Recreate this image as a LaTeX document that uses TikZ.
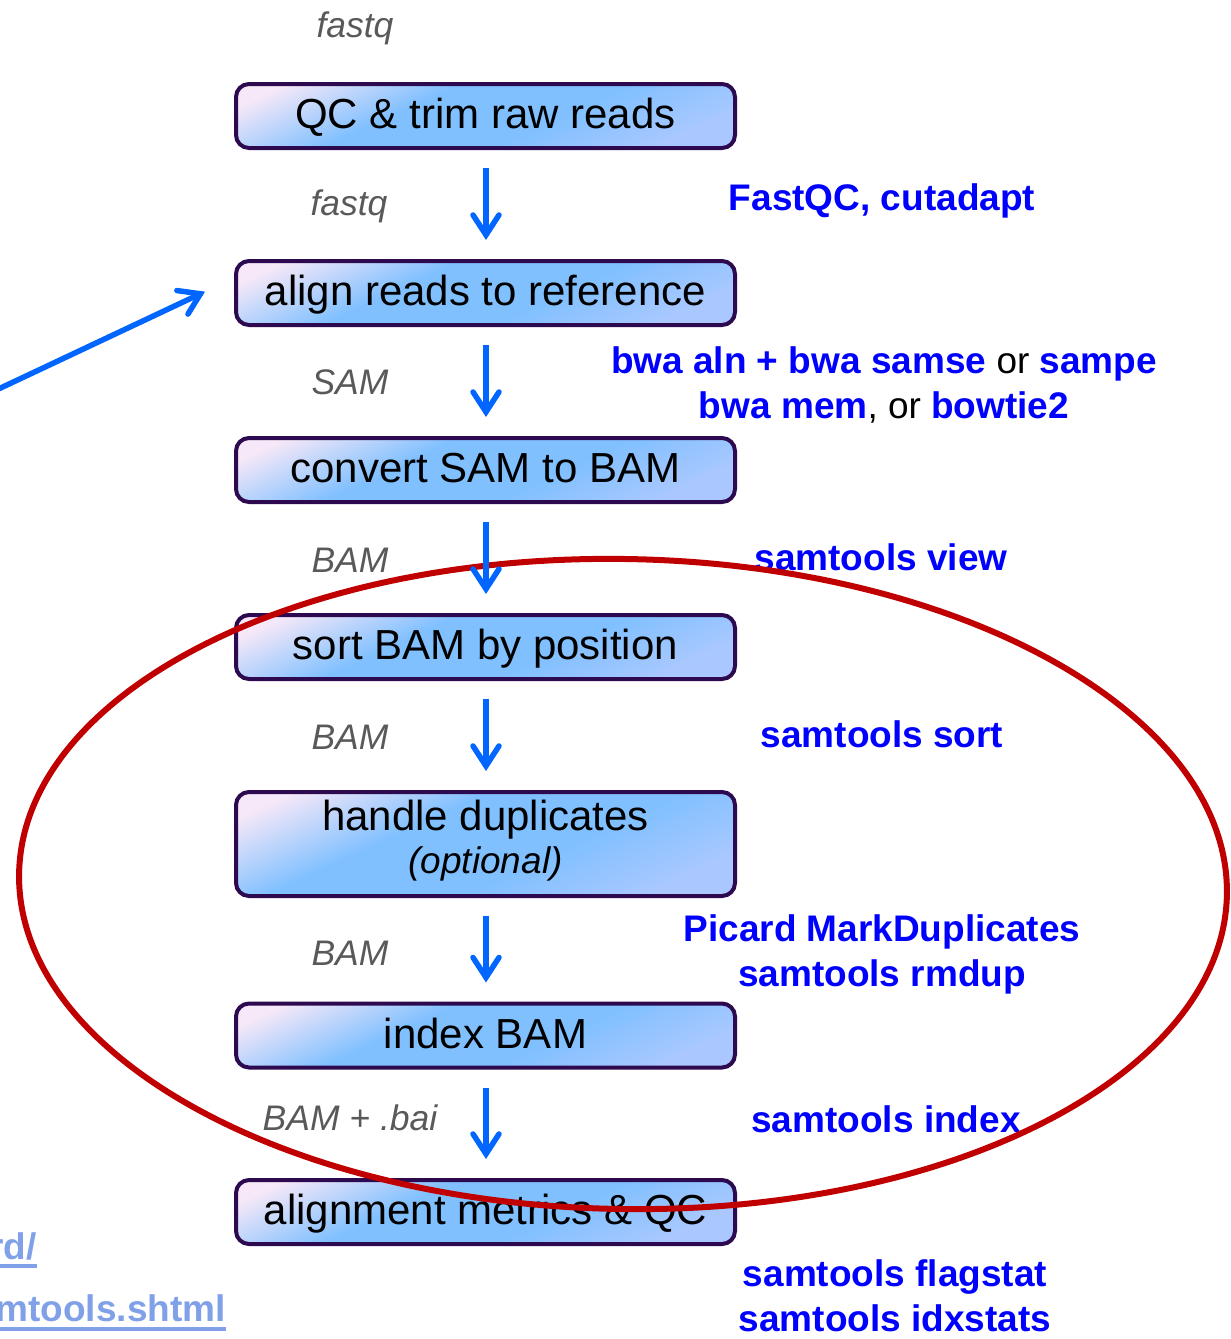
\documentclass[tikz,border=0pt]{standalone}
\usepackage{fontspec}
\setmainfont{Liberation Sans}
\usetikzlibrary{arrows.meta,shapes.geometric}
\definecolor{boxline}{RGB}{45,10,80}
\definecolor{lav}{RGB}{246,232,248}
\definecolor{bluemid}{RGB}{128,192,255}
\definecolor{bluebot}{RGB}{170,200,255}
\definecolor{arrblue}{RGB}{0,102,255}
\definecolor{ellred}{RGB}{192,0,0}
\definecolor{toolblue}{RGB}{0,0,255}
\definecolor{fmtgrey}{RGB}{89,89,89}
\definecolor{linkblue}{RGB}{128,160,232}
\pgfdeclareverticalshading{boxshade}{100bp}{color(0bp)=(bluebot); color(25bp)=(bluebot); color(42bp)=(bluemid); color(60bp)=(bluemid); color(78bp)=(lav); color(100bp)=(lav)}
\tikzset{
 stepbox/.style={draw=boxline, line width=4pt, rounded corners=13pt,
   minimum width=499pt, minimum height=64pt, inner sep=0pt, outer sep=2pt,
   shading=boxshade, shading angle=25,
   font=\fontsize{42}{43}\selectfont, text height=30pt, text depth=5pt},
 flow/.style={draw=arrblue, line width=5.5pt,
   -{Straight Barb[length=20pt,width=26pt,line cap=round]},
   shorten <=18pt, shorten >=19pt},
 fmt/.style={font=\fontsize{35.5}{40}\selectfont\itshape, text=fmtgrey, anchor=base, inner sep=0pt},
 tool/.style={font=\fontsize{37}{45}\selectfont\bfseries, text=toolblue, anchor=base, inner sep=0pt, align=center},
 link/.style={font=\fontsize{37}{40}\selectfont\bfseries, text=linkblue, anchor=base east, inner sep=0pt},
}
\begin{document}
\begin{tikzpicture}[x=1pt,y=-1pt]
\useasboundingbox (0,0) rectangle (1231,1339);
\clip (0,0) rectangle (1231,1339);
% boxes
\node[stepbox] (qc) at (485.5,116) {QC \& trim raw reads};
\node[stepbox] (align) at (485.5,293) {align reads to reference};
\node[stepbox] (conv) at (485.5,470) {convert SAM to BAM};
\node[stepbox] (sort) at (485.5,647) {sort BAM by position};
\node[stepbox, minimum height=104pt, align=center, text height=74pt, text depth=16pt] (dup) at (485.5,844)
  {handle duplicates\\{\fontsize{37}{43}\selectfont\itshape (optional)}};
\node[stepbox] (idx) at (485.5,1035.5) {index BAM};
\node[stepbox] (met) at (485.5,1212) {alignment metrics \& QC};
% format labels
\node[fmt] (f0) at (355,37) {fastq};
\node[fmt] (f1) at (349,215) {fastq};
\node[fmt] (f2) at (350,394) {SAM};
\node[fmt] (f3) at (350,572) {BAM};
\node[fmt] (f4) at (350,749) {BAM};
\node[fmt] (f5) at (350,965) {BAM};
\node[fmt] (f6) at (350,1130) {BAM + .bai};
% tool labels
\node[tool] (t1) at (882,210) {FastQC, cutadapt};
\node[tool] (t2) at (884,418) {bwa aln + bwa samse {\color{black}\mdseries or} sampe\\bwa mem{\color{black}\mdseries , or} bowtie2};
\node[tool] (t3) at (881,570) {samtools view};
\node[tool] (t4) at (882,747) {samtools sort};
\node[tool] (t5) at (882,986) {Picard MarkDuplicates\\samtools rmdup};
\node[tool] (t6) at (886,1132) {samtools index};
\node[tool] (t7) at (895,1331) {samtools flagstat\\samtools idxstats};
% links (cut at the left edge, as in the reference)
\node[link] (l1) at (37,1259) {rd/};
\node[link] (l2) at (226,1321) {mtools.shtml};
\draw[linkblue, line width=4pt] ([yshift=-7pt]l1.base west) -- ([yshift=-7pt]l1.base east);
\draw[linkblue, line width=4pt] ([yshift=-8pt]l2.base west) -- ([yshift=-8pt]l2.base east);
% red ellipse
\draw[ellred, line width=6pt, rotate around={-1:(623,884)}] (623,884) ellipse [x radius=604, y radius=325];
% arrows
\draw[flow] (qc.south -| 486,0) -- (align.north -| 486,0);
\draw[flow] (align.south -| 486,0) -- (conv.north -| 486,0);
\draw[flow] (conv.south -| 486,0) -- (sort.north -| 486,0);
\draw[flow] (sort.south -| 486,0) -- (dup.north -| 486,0);
\draw[flow] (dup.south -| 486,0) -- (idx.north -| 486,0);
\draw[flow] (idx.south -| 486,0) -- (met.north -| 486,0);
\coordinate (src) at (-10,393);
\draw[flow, shorten <=0pt, shorten >=32pt] (src) -- ([yshift=15pt]align.west);
\end{tikzpicture}
\end{document}
